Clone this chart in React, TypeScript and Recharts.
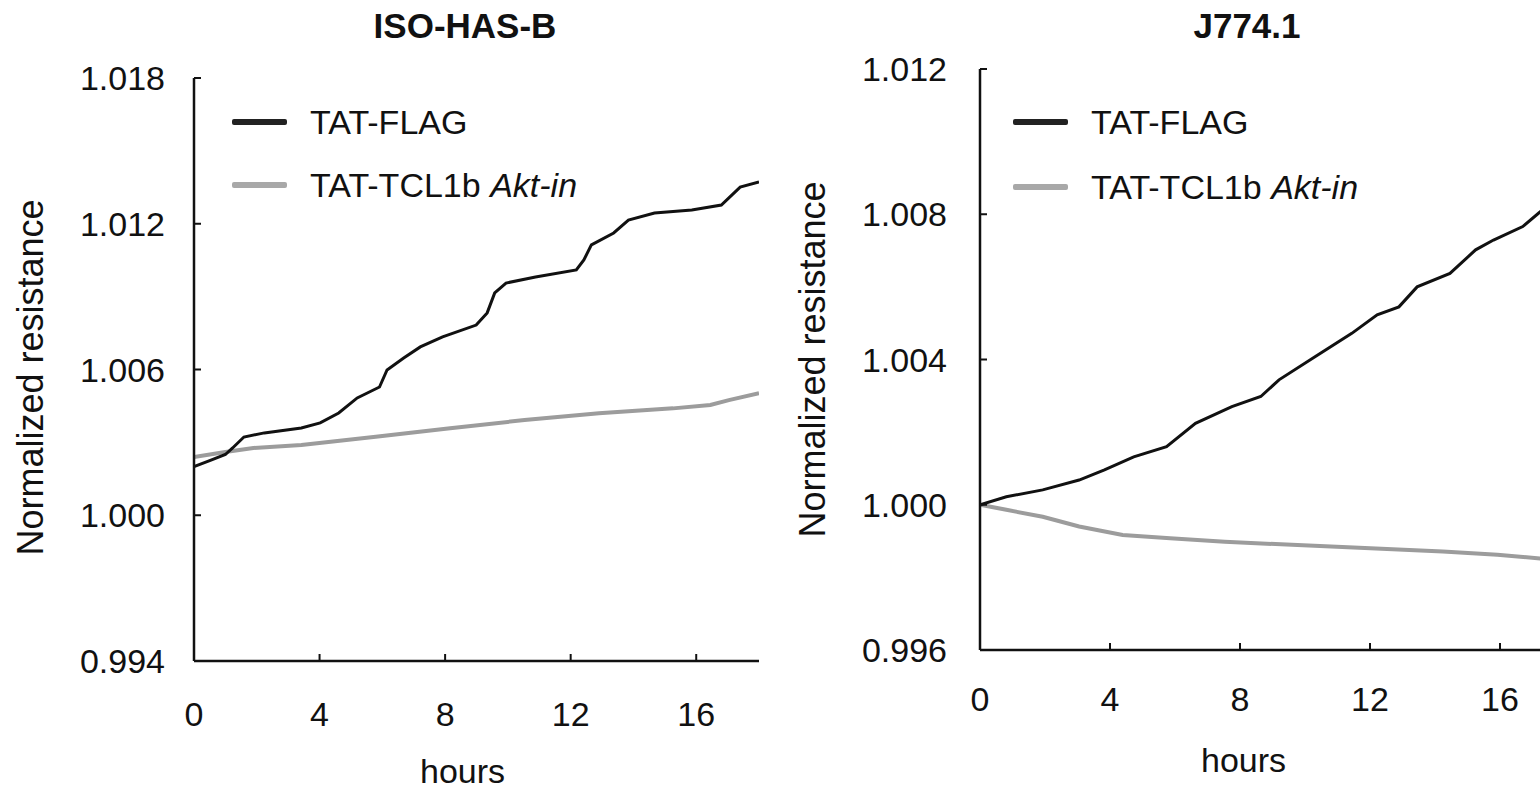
import React from 'react';
import { LineChart, Line, XAxis, YAxis, Legend } from 'recharts';

const FONT = '"Liberation Sans", Arial, Helvetica, sans-serif';
const INK = '#111111';
const GRAY = '#9c9c9c';

const HOUR_TICKS = [0, 4, 8, 12, 16];
const ISO_Y_TICKS = [0.994, 1.0, 1.006, 1.012, 1.018];
const J774_Y_TICKS = [0.996, 1.0, 1.004, 1.008, 1.012];

const TITLES = ['ISO-HAS-B', 'J774.1'];
const SERIES_NAMES = ['TAT-FLAG', 'TAT-TCL1b'];
const SERIES_ITALIC = ['', 'Akt-in'];
const Y_LABEL = 'Normalized resistance';
const X_LABEL = 'hours';

// ISO-HAS-B
const isoFlagHours = [0, 0.5, 1.0, 1.23, 1.59, 2.24, 3.42, 4.02, 4.61, 5.2, 5.91, 6.15, 6.68, 7.21, 7.92, 8.99, 9.34, 9.58, 9.94, 10.88, 12.18, 12.42, 12.66, 13.37, 13.84, 14.67, 15.86, 16.8, 17.4, 18];
const isoFlagValues = [1.002, 1.00225, 1.0025, 1.00277, 1.00322, 1.00339, 1.00359, 1.0038, 1.00421, 1.00483, 1.00528, 1.00598, 1.00647, 1.00693, 1.00734, 1.00783, 1.00833, 1.00915, 1.00956, 1.00981, 1.0101, 1.01051, 1.01113, 1.01162, 1.01215, 1.01244, 1.01257, 1.01277, 1.01351, 1.01372];
const isoTclHours = [0, 1.0, 1.89, 3.42, 5.79, 8.16, 10.53, 12.9, 15.26, 16.45, 17.04, 18];
const isoTclValues = [1.0024, 1.0026, 1.00277, 1.00289, 1.00323, 1.00358, 1.00392, 1.0042, 1.0044, 1.00454, 1.00474, 1.00502];

// J774.1
const jFlagHours = [0, 0.81, 1.93, 3.05, 3.83, 4.73, 5.74, 6.63, 7.75, 8.64, 9.2, 10.32, 11.44, 12.22, 12.89, 13.45, 14.46, 15.25, 15.8, 16.7, 17.24, 17.5];
const jFlagValues = [1.0, 1.00022, 1.00041, 1.00068, 1.00096, 1.00132, 1.0016, 1.00224, 1.0027, 1.00298, 1.00344, 1.00408, 1.00472, 1.00523, 1.00545, 1.006, 1.00637, 1.00702, 1.00729, 1.00766, 1.00807, 1.0083];
const jTclHours = [0, 0.81, 1.93, 3.05, 4.39, 5.85, 7.53, 9.77, 12.01, 14.24, 15.92, 17.24, 17.5];
const jTclValues = [1.0, 0.99986, 0.99967, 0.9994, 0.99917, 0.99908, 0.99898, 0.99889, 0.9988, 0.99871, 0.99862, 0.99852, 0.9985];

const rows = (hs: number[], vs: number[]) => hs.map((h, i) => ({ h, v: vs[i] }));

const FS = 34;
const LABEL_FS = 36;
const TICK_LEN = 7;

const makeYTick = (margin: number) => (props: any) => {
  const { x, y, payload } = props;
  return (
    <g>
      <text x={x} y={y} dy="0.36em" textAnchor="end" fontFamily={FONT} fontSize={FS} fill={INK}>
        {Number(payload.value).toFixed(3)}
      </text>
      <line x1={x + margin} x2={x + margin + TICK_LEN} y1={y} y2={y} stroke={INK} strokeWidth={2} />
    </g>
  );
};

const makeXTick = (margin: number) => (props: any) => {
  const { x, y, payload } = props;
  return (
    <g>
      <text x={x} y={y} dy="0.71em" textAnchor="middle" fontFamily={FONT} fontSize={FS} fill={INK}>
        {payload.value}
      </text>
      <line x1={x} x2={x} y1={y - margin} y2={y - margin - TICK_LEN} stroke={INK} strokeWidth={2} />
    </g>
  );
};

const makeYLabel = (cx: number, dy: number) => (props: any) => {
  const vb = props.viewBox || {};
  const x = (vb.x || 0) + cx;
  const y = (vb.y || 0) + (vb.height || 0) / 2 + dy;
  return (
    <text x={x} y={y} textAnchor="middle" transform={`rotate(-90, ${x}, ${y})`} fontFamily={FONT} fontSize={LABEL_FS} fill={INK}>
      {Y_LABEL}
    </text>
  );
};

const makeXLabel = (dx: number, baseline: number) => (props: any) => {
  const vb = props.viewBox || {};
  const x = (vb.x || 0) + (vb.width || 0) / 2 + dx;
  const y = (vb.y || 0) + baseline;
  return (
    <text x={x} y={y} textAnchor="middle" fontFamily={FONT} fontSize={FS} fill={INK}>
      {X_LABEL}
    </text>
  );
};

const makeLegend = (rowH: number) => () => (
  <div style={{ fontFamily: FONT, fontSize: FS, color: INK, lineHeight: 1 }}>
    {SERIES_NAMES.map((name, i) => (
      <div key={name} style={{ display: 'flex', alignItems: 'center', height: rowH, whiteSpace: 'nowrap' }}>
        <span style={{ display: 'inline-block', width: 55, height: 6, background: i === 0 ? '#222' : '#a8a8a8', marginRight: 23, borderRadius: 2 }} />
        <span>
          {name}
          {SERIES_ITALIC[i] ? <> <i>{SERIES_ITALIC[i]}</i></> : null}
        </span>
      </div>
    ))}
  </div>
);

type PanelProps = {
  width: number;
  margin: { top: number; right: number; bottom: number; left: number };
  yWidth: number;
  xHeight: number;
  yDomain: [number, number];
  yTicks: number[];
  flag: { h: number; v: number }[];
  tcl: { h: number; v: number }[];
  yTickMargin: number;
  xTickMargin: number;
  yLabelX: number;
  yLabelDy: number;
  xLabelDx: number;
  xLabelBaseline: number;
  legendLeft: number;
  legendTop: number;
  legendRow: number;
};

const Panel = (p: PanelProps) => (
  <LineChart width={p.width} height={792} margin={p.margin}>
    <XAxis
      type="number"
      dataKey="h"
      domain={[0, 18]}
      ticks={HOUR_TICKS}
      allowDataOverflow
      height={p.xHeight}
      tickSize={0}
      tickMargin={p.xTickMargin}
      tickLine={false}
      axisLine={{ stroke: INK, strokeWidth: 2.5 }}
      tick={makeXTick(p.xTickMargin)}
      label={{ content: makeXLabel(p.xLabelDx, p.xLabelBaseline) }}
    />
    <YAxis
      type="number"
      domain={p.yDomain}
      ticks={p.yTicks}
      allowDataOverflow
      width={p.yWidth}
      tickSize={0}
      tickMargin={p.yTickMargin}
      tickLine={false}
      axisLine={{ stroke: INK, strokeWidth: 2.5 }}
      tick={makeYTick(p.yTickMargin)}
      label={{ content: makeYLabel(p.yLabelX, p.yLabelDy) }}
    />
    <Legend
      layout="vertical"
      align="center"
      verticalAlign="middle"
      content={makeLegend(p.legendRow)}
      wrapperStyle={{ left: p.legendLeft, top: p.legendTop, width: 'auto', height: 'auto' }}
    />
    <Line data={p.tcl} dataKey="v" name={SERIES_NAMES[1]} stroke={GRAY} strokeWidth={4} dot={false} isAnimationActive={false} />
    <Line data={p.flag} dataKey="v" name={SERIES_NAMES[0]} stroke={INK} strokeWidth={3} dot={false} isAnimationActive={false} />
  </LineChart>
);

export default function App() {
  return (
    <div style={{ position: 'absolute', left: 0, top: 0, width: 1540, height: 792, overflow: 'hidden', background: '#fff', fontFamily: FONT }}>
      <div style={{ position: 'absolute', left: 0, top: 0 }}>
        <Panel
          width={770}
          margin={{ top: 78, right: 11, bottom: 0, left: 0 }}
          yWidth={194}
          xHeight={131}
          yDomain={[0.994, 1.018]}
          yTicks={ISO_Y_TICKS}
          flag={rows(isoFlagHours, isoFlagValues)}
          tcl={rows(isoTclHours, isoTclValues)}
          yTickMargin={29}
          xTickMargin={41}
          yLabelX={43}
          yLabelDy={8}
          xLabelDx={-14}
          xLabelBaseline={122}
          legendLeft={232}
          legendTop={90}
          legendRow={63}
        />
      </div>
      <div style={{ position: 'absolute', left: 770, top: 0 }}>
        <Panel
          width={830}
          margin={{ top: 69, right: 35, bottom: 0, left: 0 }}
          yWidth={210}
          xHeight={142}
          yDomain={[0.996, 1.012]}
          yTicks={J774_Y_TICKS}
          flag={rows(jFlagHours, jFlagValues)}
          tcl={rows(jTclHours, jTclValues)}
          yTickMargin={33}
          xTickMargin={37}
          yLabelX={55}
          yLabelDy={0}
          xLabelDx={-29}
          xLabelBaseline={122}
          legendLeft={243}
          legendTop={89}
          legendRow={65}
        />
      </div>
      <svg width={1540} height={792} style={{ position: 'absolute', left: 0, top: 0, pointerEvents: 'none' }}>
        <text x={465} y={38} textAnchor="middle" fontFamily={FONT} fontSize={35} fontWeight="bold" fill={INK}>{TITLES[0]}</text>
        <text x={1247} y={38} textAnchor="middle" fontFamily={FONT} fontSize={35} fontWeight="bold" fill={INK}>{TITLES[1]}</text>
      </svg>
    </div>
  );
}
